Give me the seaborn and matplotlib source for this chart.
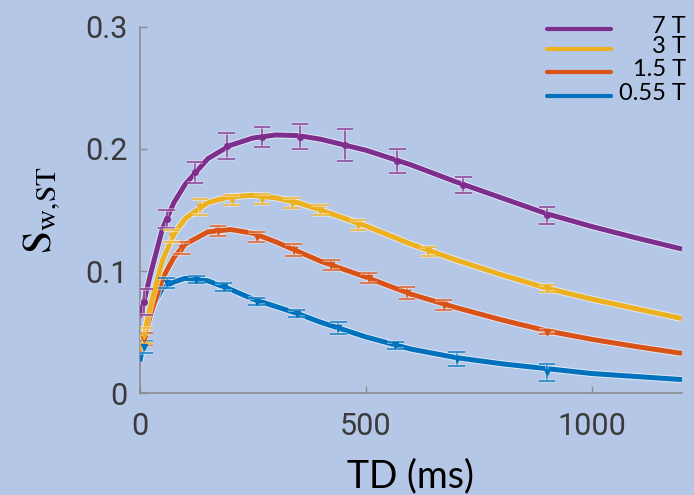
import numpy as np
import pandas as pd
import matplotlib
matplotlib.use('Agg')
import matplotlib.pyplot as plt
import matplotlib.patheffects as pe
from matplotlib.lines import Line2D
import seaborn as sns

# Field strengths and colours
fields = ['7 T', '3 T', '1.5 T', '0.55 T']
colors = {'7 T': '#7E2F8E', '3 T': '#EDB120', '1.5 T': '#D95319', '0.55 T': '#0072BD'}

# Fitted curves
fit_td = [0, 10, 25, 50, 75, 100, 150, 200, 250, 300, 350, 400, 500, 600, 700, 800, 900, 1000, 1100, 1200]
fit_7t = [0.062, 0.077, 0.100, 0.135, 0.156, 0.171, 0.192, 0.203, 0.209, 0.2115, 0.211, 0.208, 0.199, 0.187,
          0.173, 0.160, 0.147, 0.1365, 0.127, 0.118]
fit_3t = [0.035, 0.049, 0.074, 0.109, 0.130, 0.143, 0.156, 0.161, 0.162, 0.160, 0.156, 0.150, 0.137, 0.122,
          0.109, 0.097, 0.086, 0.077, 0.069, 0.061]
fit_15t = [0.033, 0.046, 0.066, 0.094, 0.111, 0.122, 0.132, 0.134, 0.131, 0.124, 0.116, 0.108, 0.095, 0.081,
           0.070, 0.060, 0.051, 0.044, 0.038, 0.0325]
fit_055t = [0.026, 0.046, 0.069, 0.086, 0.091, 0.094, 0.092, 0.085, 0.077, 0.071, 0.065, 0.058, 0.046, 0.036,
            0.029, 0.024, 0.020, 0.016, 0.0135, 0.011]

# Measured points with error bars
td_7t = [10, 59, 122, 192, 270, 354, 454, 570, 716, 901]
s_7t = [0.0746, 0.1426, 0.181, 0.2025, 0.210, 0.2102, 0.2034, 0.1903, 0.1705, 0.1456]
e_7t = [0.0107, 0.0074, 0.0087, 0.0107, 0.0082, 0.0102, 0.013, 0.0097, 0.0066, 0.0071]

td_3t = [10, 70, 133, 203, 270, 336, 399, 483, 638, 901]
s_3t = [0.047, 0.129, 0.1524, 0.158, 0.159, 0.156, 0.150, 0.138, 0.116, 0.0858]
e_3t = [0.006, 0.005, 0.0064, 0.004, 0.004, 0.004, 0.004, 0.004, 0.004, 0.003]

td_15t = [10, 92, 173, 258, 340, 424, 506, 591, 672, 901]
s_15t = [0.044, 0.119, 0.133, 0.128, 0.117, 0.105, 0.094, 0.0817, 0.072, 0.050]
e_15t = [0.005, 0.005, 0.004, 0.004, 0.005, 0.004, 0.004, 0.005, 0.004, 0.002]

td_055t = [10, 59, 125, 185, 258, 347, 439, 565, 701, 901]
s_055t = [0.038, 0.090, 0.093, 0.087, 0.075, 0.065, 0.053, 0.039, 0.028, 0.017]
e_055t = [0.005, 0.004, 0.003, 0.003, 0.003, 0.003, 0.005, 0.003, 0.006, 0.007]

fits = {'7 T': fit_7t, '3 T': fit_3t, '1.5 T': fit_15t, '0.55 T': fit_055t}
points = {'7 T': (td_7t, s_7t, e_7t), '3 T': (td_3t, s_3t, e_3t),
          '1.5 T': (td_15t, s_15t, e_15t), '0.55 T': (td_055t, s_055t, e_055t)}

fit_df = pd.concat([pd.DataFrame({'TD': fit_td, 'S': fits[f], 'field': f}) for f in fields])

bg = '#B4C7E7'
sns.set_style('ticks')
plt.rcParams['mathtext.fontset'] = 'stix'

fig = plt.figure(figsize=(6.94, 4.95), dpi=100, facecolor=bg)
ax = fig.add_axes([0.2017, 0.206, 0.781, 0.7395])
ax.set_facecolor(bg)

draw_order = ['0.55 T', '1.5 T', '7 T', '3 T']
halo = [pe.Stroke(linewidth=5.0, foreground='white', alpha=0.6), pe.Normal()]
bar_halo = [pe.Stroke(linewidth=2.8, foreground='white', alpha=0.45), pe.Normal()]
for f in draw_order:
    sub = fit_df[fit_df['field'] == f]
    sns.lineplot(data=sub, x='TD', y='S', color=colors[f], lw=3.6, ax=ax, legend=False,
                 solid_joinstyle='round', solid_capstyle='butt', zorder=3, path_effects=halo)
for f in draw_order:
    td, s, e = points[f]
    line, caps, bars = ax.errorbar(td, s, yerr=e, fmt='o' if f == '7 T' else 'v', ms=4,
                                   color=colors[f], ecolor=colors[f], elinewidth=1.6, capsize=6,
                                   capthick=1.6, alpha=0.7, zorder=4)
    line.set_alpha(1)
    for c in caps:
        c.set_path_effects(bar_halo)
    for b in bars:
        b.set_path_effects(bar_halo)

ax.set_xlim(0, 1200)
ax.set_ylim(0, 0.3)
ax.set_xticks([0, 500, 1000])
ax.set_yticks([0, 0.1, 0.2, 0.3])
ax.set_xticklabels(['0', '500', '1000'])
ax.set_yticklabels(['0', '0.1', '0.2', '0.3'])
sns.despine(ax=ax)
for sp in ['left', 'bottom']:
    ax.spines[sp].set_color('#8C8C8C')
    ax.spines[sp].set_linewidth(1.2)
ax.tick_params(direction='in', length=5, width=1, color='#8C8C8C', labelsize=22,
               labelcolor='#3A3A3A')
ax.tick_params(axis='y', pad=9)
ax.tick_params(axis='x', pad=14)
for lab in ax.get_xticklabels() + ax.get_yticklabels():
    lab.set_fontfamily('Roboto')

ax.set_xlabel('TD (ms)', fontsize=27, fontfamily='Lato', color='black', labelpad=12)
ax.set_ylabel(r'$\mathrm{S_{w{,}ST}}$', fontsize=30, color='black', labelpad=16)

# legend drawn by hand: handles on the left, labels right-aligned
leg_y = [0.9945, 0.940, 0.877, 0.8115]
for f, y in zip(fields, leg_y):
    ax.add_line(Line2D([0.751, 0.869], [y, y], transform=ax.transAxes, color=colors[f], lw=3,
                       clip_on=False, zorder=5))
    ax.text(1.0074, y + 0.006, f, transform=ax.transAxes, ha='right', va='center', fontsize=17,
            fontfamily='Lato', color='black', clip_on=False)

fig.savefig('out.png', dpi=100, facecolor=bg)
